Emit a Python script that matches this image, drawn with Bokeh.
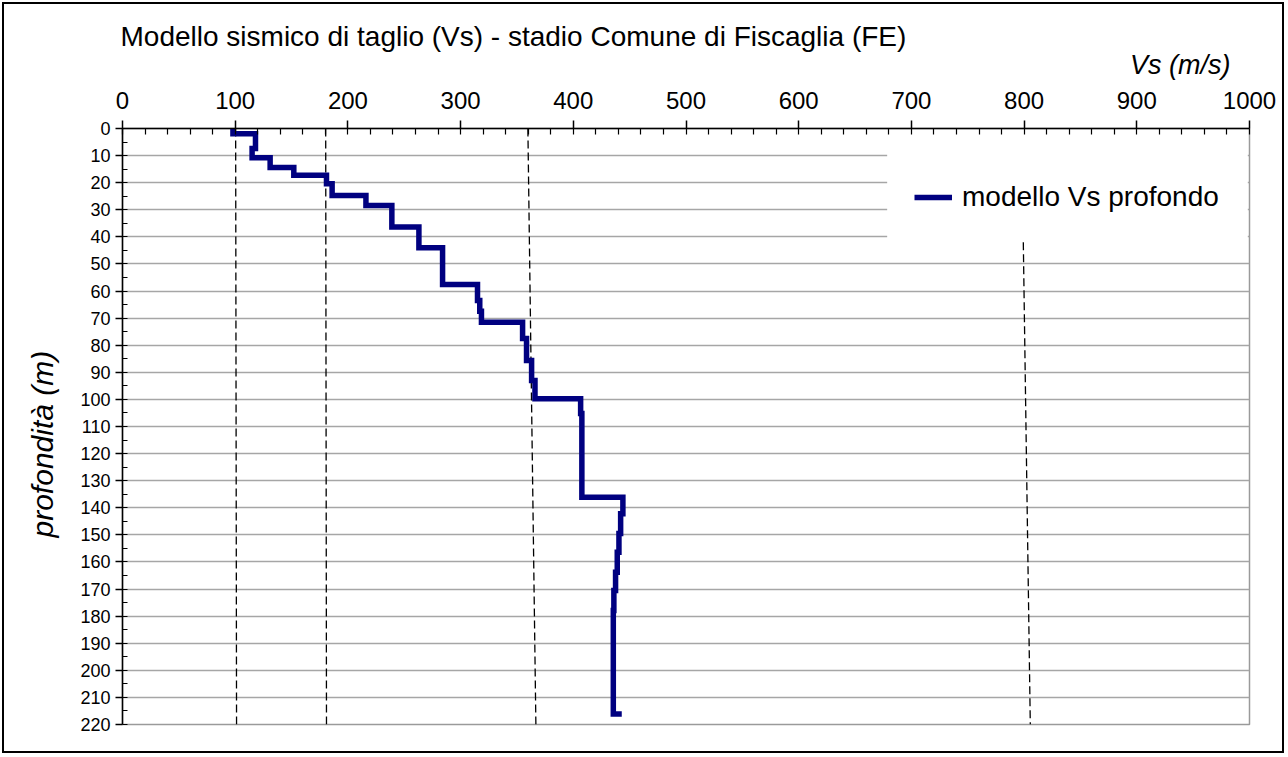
from bokeh.plotting import figure
from bokeh.models import Range1d, SingleIntervalTicker, Legend, LegendItem, Title, BoxAnnotation
from bokeh.embed import file_html
from bokeh.resources import INLINE

# ---- data ----
layer_top_m = [0, 1.9, 7.4, 10.8, 14.4, 17.3, 20.4, 24.7, 28.4, 36.4, 44.0,
               57.6, 63.5, 67.5, 71.5, 77.5, 85.6, 93.0, 99.8, 105.2,
               136.1, 142.2, 149.5, 156.4, 163.8, 170.5, 177.9]
layer_vs = [98, 118, 115, 131, 152, 181, 186, 216, 239, 263, 284,
            315, 317, 318.5, 355, 358.5, 363, 366, 406.5, 407.6,
            444, 442, 440.5, 439, 437.5, 436, 435.5]
bottom_depth_m = 216.1
halfspace_vs = 443

# reference dashed boundaries (Vs at top, Vs at bottom, depth top, depth bottom)
bound_vs_top = [100.4, 180.3, 359.7, 799.3]
bound_vs_bottom = [101.2, 181.0, 366.8, 805.5]
bound_depth_top = [0, 0, 0, 42]
bound_depth_bottom = [220, 220, 220, 220]

title_text = "Modello sismico di taglio (Vs) - stadio Comune di Fiscaglia (FE)"
x_label = "Vs (m/s)"
y_label = "profondità (m)"
series_name = "modello Vs profondo"

# ---- build step profile from layers ----
bottoms = layer_top_m[1:] + [bottom_depth_m]
px, py = [], []
for v, t, b in zip(layer_vs, layer_top_m, bottoms):
    px += [v, v]
    py += [t, b]
px.append(halfspace_vs)
py.append(bottom_depth_m)

FONT = "Liberation Sans"

p = figure(width=1282, height=751, output_backend="svg", toolbar_location=None,
           title=None,
           x_axis_location="above", y_axis_location="left",
           x_range=Range1d(0, 1000), y_range=Range1d(220, 0),
           min_border_left=118, min_border_right=37, min_border_top=124, min_border_bottom=31,
           background_fill_color="white", border_fill_color="white")
p.styles = {"border": "2px solid black", "margin": "2px"}
p.outline_line_color = "#9a9a9a"
p.outline_line_width = 1.5

# axes
xa = p.xaxis[0]
xa.ticker = SingleIntervalTicker(interval=100, num_minor_ticks=5)
xa.major_tick_out = 8
xa.major_tick_in = 0
xa.minor_tick_in = 6
xa.minor_tick_out = 0
xa.major_label_standoff = 12
xa.major_label_text_font = FONT
xa.major_label_text_font_size = "24px"
xa.major_label_text_color = "black"
xa.axis_line_color = "black"
xa.axis_line_width = 1.5
xa.major_tick_line_width = 1.5
xa.minor_tick_line_width = 1.2

ya = p.yaxis[0]
ya.ticker = SingleIntervalTicker(interval=10, num_minor_ticks=2)
ya.major_tick_out = 7
ya.major_tick_in = 0
ya.minor_tick_in = 5
ya.minor_tick_out = 0
ya.major_label_standoff = 5
ya.major_label_text_font = FONT
ya.major_label_text_font_size = "18px"
ya.major_label_text_color = "black"
ya.axis_line_color = "black"
ya.axis_line_width = 1.5
ya.major_tick_line_width = 1.5
ya.minor_tick_line_width = 1.2

p.xgrid.visible = False
p.ygrid.grid_line_color = "#a6a6a6"
p.ygrid.grid_line_width = 1.5

# dashed boundaries
p.segment(x0=bound_vs_top, y0=bound_depth_top, x1=bound_vs_bottom, y1=bound_depth_bottom,
          line_color="black", line_width=1.3, line_dash="8 4")

# profile
r = p.line(px, py, line_color="#000080", line_width=5.5, line_join="miter")

# titles (inner: x label, outer: chart title)
p.add_layout(Title(text=x_label, align="right", offset=19, standoff=18,
                   text_font=FONT, text_font_size="27px", text_font_style="italic",
                   text_color="black"), "above")
p.add_layout(Title(text=title_text, align="left", offset=-2, standoff=-27,
                   text_font=FONT, text_font_size="28px", text_font_style="normal",
                   text_color="black"), "above")

# y axis label as a left title (allows placing it along the axis like the reference)
p.add_layout(Title(text=y_label, align="left", offset=187, standoff=38,
                   text_font=FONT, text_font_size="30px", text_font_style="italic",
                   text_color="black"), "left")

# white legend area (hides grid lines, as in the reference)
p.add_layout(BoxAnnotation(left=678.5, right=998.5, top=9.2, bottom=40.6,
                           fill_color="white", fill_alpha=1.0, line_color=None))

legend = Legend(items=[LegendItem(label=series_name, renderers=[r])],
                location=(792, 511), margin=0, padding=0,
                glyph_width=38, glyph_height=20, label_standoff=10,
                label_text_font=FONT, label_text_font_size="28px", label_text_color="black",
                border_line_color=None, background_fill_alpha=0.0)
p.add_layout(legend, "center")

open("out.html", "w").write(file_html(p, INLINE))
